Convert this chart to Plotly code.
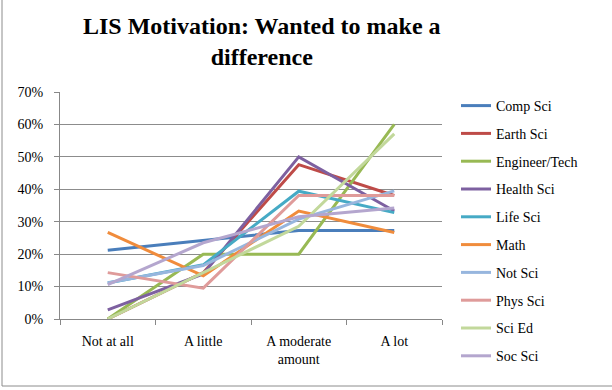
import plotly.graph_objects as go

categories = ["Not at all", "A little", "A moderate<br>amount", "A lot"]
series_names = ["Comp Sci", "Earth Sci", "Engineer/Tech", "Health Sci", "Life Sci",
                "Math", "Not Sci", "Phys Sci", "Sci Ed", "Soc Sci"]
comp_sci = [0.212, 0.242, 0.273, 0.273]
earth_sci = [0.0, 0.143, 0.476, 0.381]
engineer = [0.0, 0.20, 0.20, 0.60]
health_sci = [0.028, 0.139, 0.50, 0.333]
life_sci = [0.111, 0.167, 0.394, 0.328]
math_ = [0.267, 0.133, 0.333, 0.267]
not_sci = [0.112, 0.165, 0.308, 0.395]
phys_sci = [0.143, 0.095, 0.381, 0.381]
sci_ed = [0.0, 0.143, 0.286, 0.571]
soc_sci = [0.106, 0.235, 0.315, 0.342]
values = [comp_sci, earth_sci, engineer, health_sci, life_sci, math_, not_sci, phys_sci, sci_ed, soc_sci]
colors = ["#4A7EBB", "#BE4B48", "#98B954", "#7D60A0", "#46AAC5",
          "#F08C3C", "#97B6DE", "#DF9B9A", "#C2D89B", "#B4A6CE"]

FONT = "Liberation Serif"
fig = go.Figure()
for i, (name, vals) in enumerate(zip(series_names, values)):
    fig.add_trace(go.Scatter(x=categories, y=vals, name=name, mode="lines",
                             line=dict(color=colors[i], width=3), legendgroup=name))

L, R, T, B = 60, 170, 92, 71
W, H = 612, 390
pw, ph = W - L - R, H - T - B
fig.add_shape(type="rect", xref="paper", yref="paper",
              x0=(2 - L) / pw, x1=(620 - L) / pw,
              y0=(H - B - 386) / ph, y1=(H - B + 10) / ph,
              line=dict(color="#8c8c8c", width=1), fillcolor="rgba(0,0,0,0)", layer="below")

fig.add_annotation(text="<b>LIS Motivation: Wanted to make a<br>difference</b>",
                   xref="paper", yref="paper", x=(262 - L) / pw, xanchor="center",
                   y=(H - B - 11) / ph, yanchor="top", showarrow=False,
                   font=dict(family=FONT, size=24, color="#000"))

fig.update_layout(
    width=W, height=H, margin=dict(l=L, r=R, t=T, b=B),
    paper_bgcolor="white", plot_bgcolor="white",
    font=dict(family=FONT, color="#000", size=13),
    showlegend=True,
    legend=dict(xref="container", yref="container", x=456 / W, y=1 - 90 / H,
                xanchor="left", yanchor="top", traceorder="grouped", tracegroupgap=6.6,
                itemwidth=30, font=dict(family=FONT, size=14, color="#000"),
                bgcolor="rgba(0,0,0,0)", maxheight=1.0),
    xaxis=dict(type="category", showgrid=False, showline=True, linecolor="#888", linewidth=1,
               ticks="outside", tickson="boundaries", ticklen=5, tickcolor="#888",
               ticklabelstandoff=9,
               tickfont=dict(family=FONT, size=14, color="#000"), range=[-0.5, 3.5]),
    yaxis=dict(range=[0, 0.7], dtick=0.1, tickformat=".0%", showgrid=True, gridcolor="#8c8c8c",
               gridwidth=1, showline=True, linecolor="#888", ticks="outside", ticklen=5,
               tickcolor="#888", zeroline=False, ticklabelstandoff=8,
               tickfont=dict(family=FONT, size=14, color="#000")),
)
fig.write_html("out.html")
